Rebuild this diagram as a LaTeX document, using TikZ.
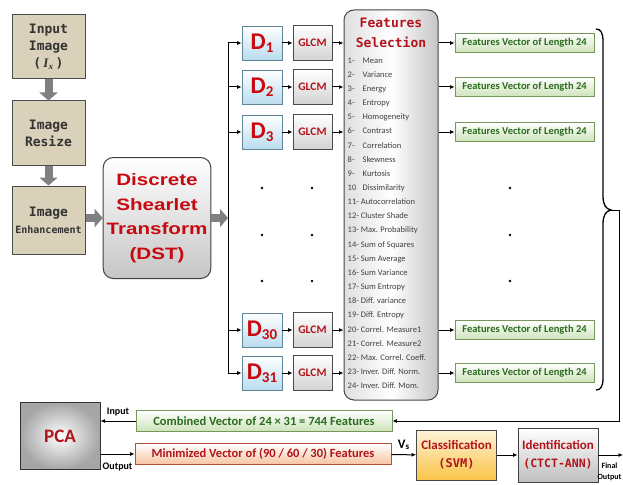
\documentclass[tikz,border=0pt]{standalone}
\usepackage{fontspec}
\setmainfont{Carlito}
\newfontfamily\monofam{DejaVu Sans Mono}
\newfontfamily\serifam{Liberation Serif}
\newfontfamily\dstfam[FakeStretch=1.25]{Liberation Sans}
\definecolor{TitleRed} {RGB}{178,20,28}
\definecolor{DSTRed}   {RGB}{200,10,16}
\definecolor{FVGreen}  {RGB}{42,108,30}
\definecolor{FVEdge}   {RGB}{118,150,92}
\definecolor{FVFill}   {RGB}{205,227,186}
\definecolor{DEdge}    {RGB}{96,134,156}
\definecolor{DFill}    {RGB}{186,220,238}
\definecolor{PrepFill} {RGB}{218,209,186}
\definecolor{MinFill}  {RGB}{246,196,160}
\definecolor{MinEdge}  {RGB}{180,80,58}
\definecolor{SVMFill}  {RGB}{250,196,70}
\usetikzlibrary{arrows.meta,positioning,calc}
\newcommand{\dsub}[1]{{\fontsize{24}{24}\selectfont D}\raisebox{-3pt}{\fontsize{15}{15}\selectfont #1}}

\begin{document}
\begin{tikzpicture}[x=1pt,y=-1pt,
  prep/.style={draw=black!70,fill=PrepFill,line width=1pt,minimum width=73pt,
               minimum height=64pt,align=center,text=black!80,inner sep=1pt,
               font=\monofam\bfseries\fontsize{13}{17}\selectfont},
  fat/.style={gray,line width=8pt,-{Triangle[length=8pt,width=18pt]}},
  conn/.style={black,line width=1pt,-{Latex[length=4.5pt,width=4pt]}},
  dbox/.style={draw=DEdge,top color=white,bottom color=DFill,line width=0.8pt,
               minimum width=40pt,minimum height=34pt,inner sep=1pt,
               text=DSTRed,font=\bfseries},
  gbox/.style={draw=gray!60!black,top color=white,bottom color=gray!35,
               line width=0.8pt,minimum width=39pt,minimum height=35pt,
               inner sep=1pt,text=TitleRed,font=\bfseries\fontsize{11.5}{12}\selectfont},
  fvec/.style={draw=FVEdge,top color=white,bottom color=FVFill,line width=0.8pt,
               minimum width=139pt,minimum height=19pt,inner sep=1pt,
               text=FVGreen,font=\bfseries\fontsize{10.5}{12}\selectfont},
  wbar/.style={line width=0.8pt,minimum width=256pt,minimum height=21pt,
               inner sep=1pt,font=\bfseries\fontsize{12.5}{14}\selectfont},
  endbox/.style={line width=0.8pt,minimum width=80pt,minimum height=52pt,
                 align=center,inner sep=1pt,text=TitleRed,
                 font=\bfseries\fontsize{13}{18}\selectfont}]
  \useasboundingbox (0,0) rectangle (623,484);

  \node[prep](in) at (48.5,46.5)
       {Input\\Image\\({\serifam\bfseries\itshape\,I\textsubscript{x}\,})};
  \node[prep](rs) at (48.5,133){Image\\Resize};
  \node[prep,minimum height=68pt](enh) at (48.5,220)
       {Image\\{\fontsize{10}{12}\selectfont Enhancement}};
  \node[draw=gray!50!black,top color=white,bottom color=gray!45,line width=1pt,
        rounded corners=10pt,minimum width=106pt,minimum height=121pt,
        align=center,text=DSTRed,font=\dstfam\bfseries\fontsize{16.5}{24.5}\selectfont]
       (dst) at (157,218){Discrete\\Shearlet\\Transform\\(DST)};
  \coordinate (bus) at (228,218);
  \draw[fat](in)--(rs);
  \draw[fat](rs)--(enh);
  \draw[fat](enh.east |- dst)--(dst);
  \draw[fat](dst)--(bus);

  \node[draw=gray!55!black,left color=gray!25,right color=gray!45,middle color=white,
        line width=1pt,rounded corners=10pt,minimum width=94pt,minimum height=390pt]
       (fs) at (391,205){};
  \node[text=TitleRed,align=center,font=\monofam\bfseries\fontsize{13}{20}\selectfont]
       (fst) at (391,33){Features\\Selection};
  \node[anchor=north west,align=left,inner sep=0pt,text=black!75,
        font=\fontsize{8.5}{14.15}\selectfont]
       (fsl) at ($(fs.north west)+(4,48)$){%
    \makebox[15pt][l]{1-}Mean\\
    \makebox[15pt][l]{2-}Variance\\
    \makebox[15pt][l]{3-}Energy\\
    \makebox[15pt][l]{4-}Entropy\\
    \makebox[15pt][l]{5-}Homogeneity\\
    \makebox[15pt][l]{6-}Contrast\\
    \makebox[15pt][l]{7-}Correlation\\
    \makebox[15pt][l]{8-}Skewness\\
    \makebox[15pt][l]{9-}Kurtosis\\
    \makebox[15pt][l]{10}Dissimilarity\\
    11- Autocorrelation\\
    12- Cluster Shade\\
    13- Max. Probability\\
    14- Sum of Squares\\
    15- Sum Average\\
    16- Sum Variance\\
    17- Sum Entropy\\
    18- Diff. variance\\
    19- Diff. Entropy\\
    20- Correl. Measure1\\
    21- Correl. Measure2\\
    22- Max. Correl. Coeff.\\
    23- Inver. Diff. Norm.\\
    24- Inver. Diff. Mom.};

  \node[dbox](d1) at (262,43){\dsub{1}};
  \node[dbox](d2) at (262,87){\dsub{2}};
  \node[dbox](d3) at (262,132){\dsub{3}};
  \node[dbox](d30) at (262,330){\dsub{30}};
  \node[dbox](d31) at (262,373){\dsub{31}};
  \node[gbox](g1) at (312.5,43){GLCM};
  \node[gbox](g2) at (312.5,87){GLCM};
  \node[gbox](g3) at (312.5,132){GLCM};
  \node[gbox](g30) at (312.5,330){GLCM};
  \node[gbox](g31) at (312.5,373){GLCM};
  \node[fvec](f1) at (524.5,43){Features Vector of Length 24};
  \node[fvec](f2) at (524.5,87){Features Vector of Length 24};
  \node[fvec](f3) at (524.5,132){Features Vector of Length 24};
  \node[fvec](f30) at (524.5,330){Features Vector of Length 24};
  \node[fvec](f31) at (524.5,373){Features Vector of Length 24};
  \foreach \x in {262,312,510}
    \foreach \y in {188,235,281}
      \fill (\x,\y) circle (1.4pt);

  \draw[line width=1pt](bus |- d1)--(bus |- d31);
  \foreach \n in {1,2,3,30,31}{
    \draw[conn](bus |- d\n)--(d\n);
    \draw[conn](d\n)--(g\n);
    \draw[conn](g\n)--(g\n -| fs.west);
    \draw[conn](fs.east |- f\n)--(f\n);
  }

  \draw[line width=1.3pt](596,29) .. controls (601,29) and (603,33) .. (603,42)
       --(603,196) .. controls (603,205) and (606,209) .. (611,210)
       .. controls (606,211) and (603,215) .. (603,224)
       --(603,378) .. controls (603,386) and (601,390) .. (596,390);
  \coordinate (tip) at (611,210);

  \node[wbar,draw=FVEdge,top color=white,bottom color=FVFill,text=FVGreen]
       (cv) at (264,421){Combined Vector of 24 × 31 = 744 Features};
  \node[wbar,draw=MinEdge,top color=white,bottom color=MinFill,text=TitleRed]
       (mv) at (263,454){Minimized Vector of (90 / 60 / 30) Features};
  \node[draw=gray!40!black,inner color=white,outer color=gray!70,line width=1pt,
        minimum width=80pt,minimum height=67pt,text=TitleRed,
        font=\bfseries\fontsize{19}{20}\selectfont](pca) at (60,436){PCA};
  \node[endbox,draw=gray!55!black,top color=SVMFill!20,bottom color=SVMFill,
        minimum height=50pt](svm) at (456.5,455)
       {Classification\\{\monofam\fontsize{12}{18}\selectfont(SVM)}};
  \node[endbox,draw=gray!50!black,top color=white,bottom color=gray!50,
        minimum height=54pt](id) at (558,455)
       {Identification\\{\monofam\fontsize{11.5}{18}\selectfont(CTCT-ANN)}};
  \coordinate (fin) at (623,455);

  \draw[conn](tip)--++(8,0)|-(cv);
  \draw[conn](cv.west)--(pca.east |- cv.west)
       node[midway,above=1pt,font=\bfseries\fontsize{10}{11}\selectfont]{Input};
  \draw[conn](pca.east |- mv.west)--(mv.west)
       node[midway,below=5pt,font=\bfseries\fontsize{10}{11}\selectfont]{Output};
  \draw[conn](mv)--(svm)
       node[midway,above=1pt,font=\fontsize{13}{14}\selectfont]{$\mathbf{V}_{\mathbf{s}}$};
  \draw[conn](svm)--(id);
  \draw[conn](id)--(fin);
  \node[align=center,inner sep=0pt,font=\bfseries\fontsize{8}{10.5}\selectfont]
       (fo) at (609.5,472){Final\\Output};
\end{tikzpicture}
\end{document}
